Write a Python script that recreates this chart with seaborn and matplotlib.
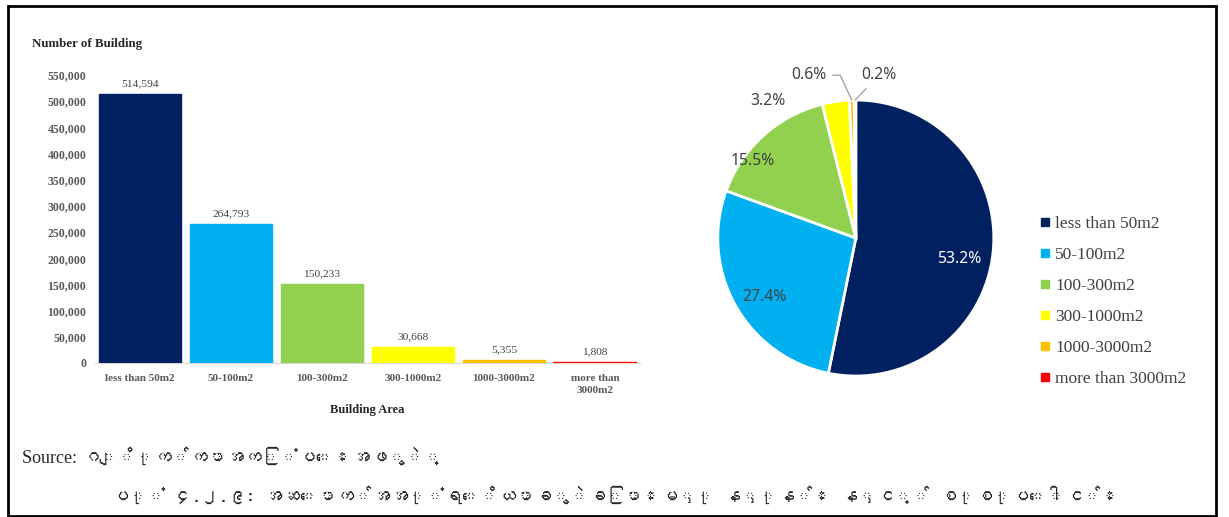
import numpy as np
import seaborn as sns
import matplotlib.pyplot as plt
from matplotlib import font_manager
from matplotlib.patches import Rectangle
from matplotlib.lines import Line2D
from matplotlib.ft2font import FT2Font

# data
areas = ["less than 50m2", "50-100m2", "100-300m2", "300-1000m2", "1000-3000m2", "more than 3000m2"]
tick_labels = ["less than 50m2", "50-100m2", "100-300m2", "300-1000m2", "1000-3000m2", "more than\n3000m2"]
buildings = [514594, 264793, 150233, 30668, 5355, 1808]
colors = ["#002060", "#00B0F0", "#92D050", "#FFFF00", "#FFC000", "#FF0000"]

source_text = "Source: ဂျိုက်ကာအကြံပေးအဖွဲ့"
caption_text = "ပုံ ၄.၂.၉: အဆောက်အအုံရေိယာခွဲခြားမှု နှုန်း နှင့် စုစုပေါင်း"


def find_myanmar_font():
    for path in font_manager.findSystemFonts():
        try:
            f = FT2Font(path)
            if f.get_char_index(0x1000) and f.get_char_index(0x1031):
                font_manager.fontManager.addfont(path)
                return font_manager.FontProperties(fname=path).get_name()
        except Exception:
            pass
    return None


mm_font = find_myanmar_font()

sns.set_style("white")
serif = "Liberation Serif"

fig = plt.figure(figsize=(12.29, 5.17), dpi=100)

# bar chart
ax = fig.add_axes([0.077, 0.298, 0.444, 0.557])
sns.barplot(x=areas, y=buildings, hue=areas, palette=colors, saturation=1,
            width=0.91, legend=False, ax=ax)
for p, col in zip(ax.patches, colors):
    p.set_edgecolor(col)
    p.set_linewidth(1)
ax.set_ylim(0, 550000)
ax.set_xlim(-0.5, 5.5)
ax.set_yticks(np.arange(0, 550001, 50000))
ax.set_yticklabels([f"{v:,}" for v in range(0, 550001, 50000)],
                   fontfamily=serif, fontsize=8.5, fontweight="bold", color="#595959")
ax.set_xticks(range(len(areas)))
ax.set_xticklabels(tick_labels, fontfamily=serif, fontsize=8, fontweight="bold",
                   color="#595959", linespacing=1.45)
ax.tick_params(axis="y", length=0, pad=6)
ax.tick_params(axis="x", length=0, pad=8)
for s in ["top", "right", "left"]:
    ax.spines[s].set_visible(False)
ax.spines["bottom"].set_color("#d9d9d9")
ax.spines["bottom"].set_zorder(0)
for c in ax.containers:
    ax.bar_label(c, labels=[f"{v:,.0f}" for v in c.datavalues], padding=4,
                 fontfamily=serif, fontsize=8.2, color="#404040")
ax.set_xlabel("Building Area", fontfamily=serif, fontsize=9, fontweight="bold",
              labelpad=6)
ax.set_ylabel("")
fig.text(32 / 1229, 1 - 44 / 517, "Number of Building", fontfamily=serif,
         fontsize=9.3, fontweight="bold", va="center")

# pie chart
pax = fig.add_axes([0.558, 0.2108, 0.2767, 0.6576])
wedges, _ = pax.pie(buildings, colors=colors, startangle=90, counterclock=False,
                    wedgeprops=dict(edgecolor="white", linewidth=2))
pax.set_xlim(-1.232, 1.232)
pax.set_ylim(-1.232, 1.232)
pax.set_aspect("equal")
pax.axis("off")

total = sum(buildings)
pcts = [f"{100 * v / total:.1f}%" for v in buildings]
label_font = "Noto Sans"
inside_pos = [(0.75, -0.15), (-0.66, -0.43), (-0.75, 0.56), (-0.64, 0.99)]
for i, (x, y) in enumerate(inside_pos):
    pax.text(x, y, pcts[i], ha="center", va="center", fontsize=11.3, fontfamily=label_font,
             color="white" if i == 0 else "#404040")

# leader-line labels for the two thin slices
leaders = [(4, (-0.21, 1.18), "right", "angle,angleA=0,angleB=115,rad=0"),
           (5, (0.04, 1.18), "left", "arc3")]
for i, txt_xy, ha, conn in leaders:
    w = wedges[i]
    ang = np.deg2rad((w.theta1 + w.theta2) / 2)
    edge = (np.cos(ang), np.sin(ang))
    pax.annotate(pcts[i], xy=edge, xytext=txt_xy, ha=ha, va="center", fontsize=11.3,
                 fontfamily=label_font, color="#404040",
                 arrowprops=dict(arrowstyle="-", color="#a6a6a6", lw=1,
                                 shrinkA=2, shrinkB=0, connectionstyle=conn))

handles = [Line2D([], [], marker="s", linestyle="", markersize=5.5, color=c) for c in colors]
leg = fig.legend(handles, areas, loc="upper left", bbox_to_anchor=(1024 / 1229, 1 - 200 / 517),
                 frameon=False, handlelength=0.6, handletextpad=0.3,
                 labelspacing=0.86, prop=dict(family=serif, size=12.5))
for t in leg.get_texts():
    t.set_color("#404040")

# source and caption
mm_family = [mm_font, "DejaVu Sans"] if mm_font else ["DejaVu Sans"]
fig.text(22 / 1229, 1 - 458 / 517, source_text, fontsize=13, va="center",
         fontfamily=[serif] + mm_family)
fig.text(615 / 1229, 1 - 495 / 517, caption_text, fontsize=13, va="center", ha="center",
         fontweight="bold", fontfamily=mm_family)

# outer frame
fig.add_artist(Rectangle((8 / 1229, 1 / 517), 1208 / 1229, 510 / 517,
                         transform=fig.transFigure, fill=False, edgecolor="black", lw=2))

fig.savefig("out.png", dpi=100)
